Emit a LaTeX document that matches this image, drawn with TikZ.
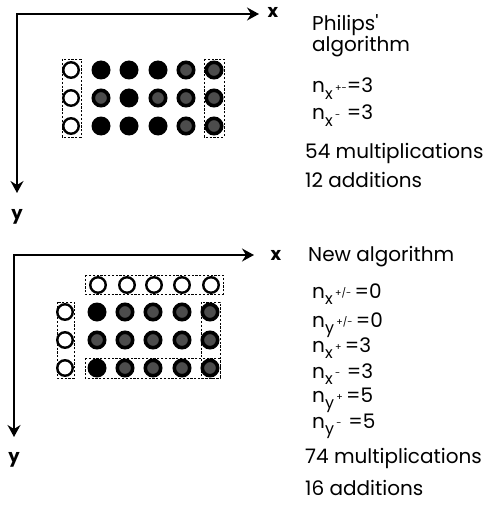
\documentclass[tikz,border=0pt]{standalone}
\usepackage{fontspec}
\setmainfont{Poppins}
\usetikzlibrary{arrows.meta}
\newcommand{\nline}[3]{n\raisebox{-0.3em}{\fontsize{16}{16}\selectfont #1}\hspace{0.12em}\raisebox{0.08em}{\fontsize{9.5}{9.5}\selectfont #2}#3}
\tikzset{
  axis/.style={line width=1.7pt,{Stealth[length=12pt,width=13pt,inset=4pt]}-{Stealth[length=12pt,width=13pt,inset=4pt]}},
  hol/.style={circle,draw=black,line width=2.4pt,fill=white,minimum size=15.5pt,inner sep=0pt},
  dark/.style={circle,fill=black,minimum size=19pt,inner sep=0pt},
  spk/.style={circle,fill=black!70,draw=black,line width=3.6pt,minimum size=15.4pt,inner sep=0pt},
  dbox/.style={draw=black,line width=0.8pt,dash pattern=on 2.2pt off 1.6pt},
  txt/.style={anchor=base west,inner sep=0pt,font=\fontsize{20}{24}\selectfont},
  axlab/.style={anchor=base,inner sep=0pt,font=\fontsize{18}{20}\selectfont\bfseries}
}
\begin{document}
\begin{tikzpicture}[x=1pt,y=-1pt]
\useasboundingbox (0,0) rectangle (491,524);
% ---------- top diagram ----------
\coordinate (o1) at (17,14);
\coordinate (xe1) at (259,14);
\coordinate (ye1) at (17,193);
\draw[axis] (xe1) -- (o1) -- (ye1);
\node[axlab] (xl1) at (273,18) {x};
\node[axlab] (yl1) at (17,219) {y};
% circles
\foreach \r/\yy in {1/70,2/98,3/126}{
  \node[hol] (ta\r-1) at (71,\yy) {};
}
\node[dark] (ta1-2) at (101,70) {};
\node[dark] (ta1-3) at (129,70) {};
\node[dark] (ta1-4) at (158,70) {};
\node[spk]  (ta1-5) at (186,70) {};
\node[spk]  (ta1-6) at (214,70) {};
\node[spk]  (ta2-2) at (101,98) {};
\node[dark] (ta2-3) at (129,98) {};
\node[spk]  (ta2-4) at (158,98) {};
\node[spk]  (ta2-5) at (186,98) {};
\node[spk]  (ta2-6) at (214,98) {};
\node[dark] (ta3-2) at (101,126) {};
\node[dark] (ta3-3) at (129,126) {};
\node[dark] (ta3-4) at (158,126) {};
\node[spk]  (ta3-5) at (186,126) {};
\node[spk]  (ta3-6) at (214,126) {};
\draw[dbox] (62,59) rectangle (81,137);
\draw[dbox] (204,59) rectangle (224,137);
% text
\node[txt] (p1) at (312,31) {Philips\textquotesingle};
\node[txt] (p2) at (312,52) {algorithm};
\node[txt] (p3) at (312,93) {\nline{x}{+-}{=3}};
\node[txt] (p4) at (312,120) {\nline{x}{-}{\,\,=3}};
\node[txt] (p5) at (305,158) {54 multiplications};
\node[txt] (p6) at (305,187) {12 additions};
% ---------- bottom diagram ----------
\coordinate (o2) at (14,255);
\coordinate (xe2) at (254,255);
\coordinate (ye2) at (14,437);
\draw[axis] (xe2) -- (o2) -- (ye2);
\node[axlab] (xl2) at (276,260) {x};
\node[axlab] (yl2) at (14,462) {y};
\foreach \c/\xx in {1/98,2/127,3/154,4/182,5/211}{
  \node[hol] (bt-\c) at (\xx,285) {};
}
\foreach \r/\yy in {1/312,2/340,3/368}{
  \node[hol] (bl-\r) at (65,\yy) {};
}
\node[dark] (b1-1) at (97,312) {};
\node[spk]  (b1-2) at (125,312) {};
\node[spk]  (b1-3) at (153,312) {};
\node[spk]  (b1-4) at (182,312) {};
\node[spk]  (b1-5) at (210,312) {};
\node[spk]  (b2-1) at (97,340) {};
\node[spk]  (b2-2) at (125,340) {};
\node[spk]  (b2-3) at (153,340) {};
\node[spk]  (b2-4) at (182,340) {};
\node[spk]  (b2-5) at (210,340) {};
\node[dark] (b3-1) at (97,368) {};
\node[spk]  (b3-2) at (125,368) {};
\node[spk]  (b3-3) at (153,368) {};
\node[spk]  (b3-4) at (182,368) {};
\node[spk]  (b3-5) at (210,368) {};
\draw[dbox] (85,275) rectangle (223,294);
\draw[dbox] (57,302) rectangle (74,378);
\draw[dbox] (201,302) rectangle (220,378);
\draw[dbox] (85,358) rectangle (220,378);
% text
\node[txt] (q1) at (308,261) {New algorithm};
\node[txt] (q2) at (312,298) {\nline{x}{+/-}{\,=0}};
\node[txt] (q3) at (312,327) {\nline{y}{+/-}{\,=0}};
\node[txt] (q4) at (312,352) {\nline{x}{+}{\,=3}};
\node[txt] (q5) at (312,378) {\nline{x}{-}{\,\,=3}};
\node[txt] (q6) at (312,402) {\nline{y}{+}{\,=5}};
\node[txt] (q7) at (312,428) {\nline{y}{-}{\,\,=5}};
\node[txt] (q8) at (305,463) {74 multiplications};
\node[txt] (q9) at (305,495) {16 additions};
\end{tikzpicture}
\end{document}
